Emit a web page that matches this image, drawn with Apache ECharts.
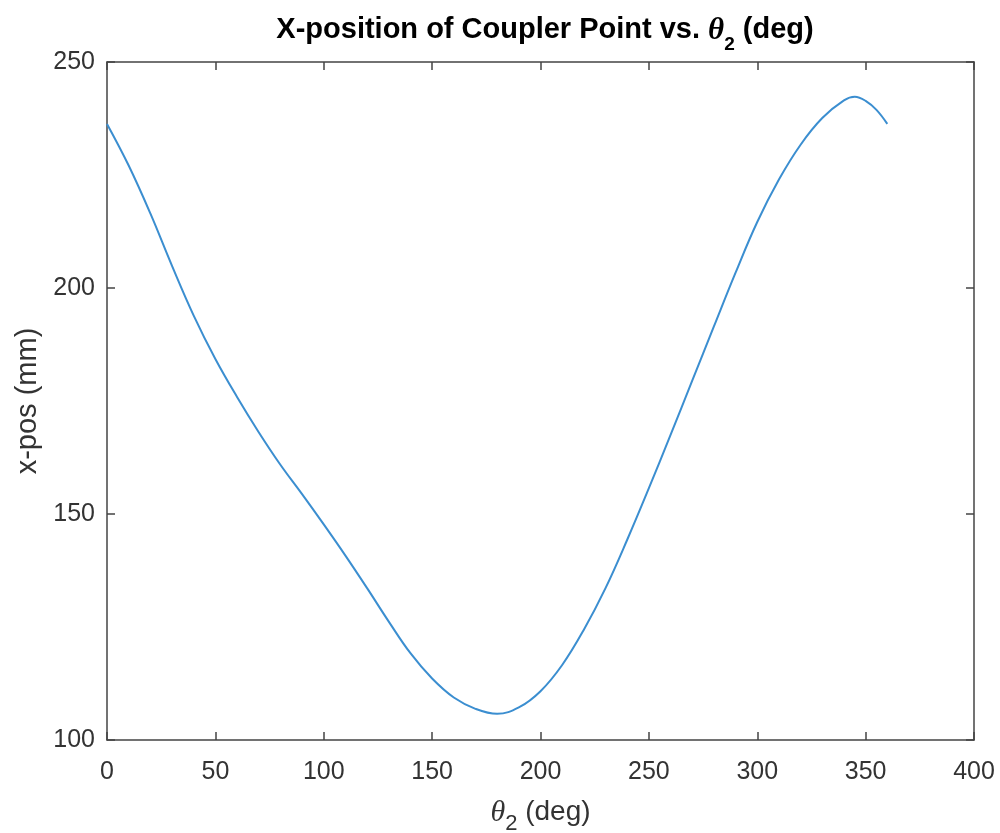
<!DOCTYPE html>
<html>
<head>
<meta charset="utf-8">
<title>X-position of Coupler Point</title>
<script src="https://cdn.jsdelivr.net/npm/echarts@6/dist/echarts.min.js"></script>
<style>
  html, body { margin: 0; padding: 0; background: #fff; }
  #chart { width: 1000px; height: 833px; }
</style>
</head>
<body>
<div id="chart"></div>
<script>
// crank angle theta2 (deg) and coupler point x-position (mm)
const thetaDeg = [0, 10, 20, 30, 40, 50, 60, 70, 80, 90, 100, 110, 120, 130, 140, 150, 160, 170, 180,
  190, 200, 210, 220, 230, 240, 250, 260, 270, 280, 290, 300, 310, 320, 330, 340, 345, 350, 355, 360];
const xPos = [236.3, 227.1, 216.5, 204.9, 193.9, 184.3, 175.9, 168.1, 160.9, 154.4, 147.7, 140.8, 133.6,
  126.2, 119.2, 113.6, 109.4, 106.9, 105.8, 107.2, 110.8, 116.6, 124.4, 133.6, 144.3, 155.7, 167.5,
  179.5, 191.5, 203.4, 214.6, 224.0, 231.7, 237.6, 241.5, 242.3, 241.4, 239.4, 236.3];

const xTicks = { min: 0, max: 400, interval: 50 };
const yTicks = { min: 100, max: 250, interval: 50 };

const font = 'Liberation Sans, Arial, Helvetica, sans-serif';
const axisColor = '#444';
const textColor = '#333';

const chart = echarts.init(document.getElementById('chart'));

const points = thetaDeg.map((t, i) => [t, xPos[i]]);

// shared look for the four sides of the box
function boxAxis (extra) {
  return Object.assign({
    type: 'value',
    axisLine: { show: true, onZero: false, lineStyle: { color: axisColor, width: 1.5 } },
    axisTick: { show: true, inside: true, length: 8, lineStyle: { color: axisColor, width: 1.5 } },
    splitLine: { show: false },
    axisLabel: { show: false }
  }, extra);
}

const tickLabel = { show: true, color: textColor, fontFamily: font, fontSize: 25 };

chart.setOption({
  animation: false,
  backgroundColor: '#fff',
  title: {
    text: '{b|X-position of Coupler Point vs. }{i|θ}{s|2}{b| (deg)}',
    left: 540,
    textAlign: 'center',
    top: 10,
    textStyle: {
      rich: {
        b: { fontFamily: font, fontWeight: 'bold', fontSize: 29, color: '#000', lineHeight: 32, verticalAlign: 'top' },
        i: { fontFamily: 'Liberation Serif, serif', fontStyle: 'italic', fontSize: 31, color: '#000', lineHeight: 32, verticalAlign: 'top' },
        s: { fontFamily: font, fontWeight: 'bold', fontSize: 19, color: '#000', lineHeight: 32, padding: [20, 0, 0, 0], verticalAlign: 'top' }
      }
    }
  },
  grid: { left: 107, right: 26, top: 62, bottom: 93, outerBoundsMode: 'none' },
  xAxis: [
    boxAxis(Object.assign({
      position: 'bottom',
      axisLabel: Object.assign({ margin: 20 }, tickLabel),
      name: '{i|θ}{s|2}{n| (deg)}',
      nameLocation: 'middle',
      nameGap: 58,
      nameTextStyle: {
        rich: {
          n: { fontFamily: font, fontSize: 28, color: textColor, lineHeight: 30, verticalAlign: 'top' },
          i: { fontFamily: 'Liberation Serif, serif', fontStyle: 'italic', fontSize: 30, color: textColor, lineHeight: 30, verticalAlign: 'top' },
          s: { fontFamily: font, fontSize: 22, color: textColor, lineHeight: 30, padding: [15, 0, 0, 0], verticalAlign: 'top' }
        }
      }
    }, xTicks)),
    boxAxis(Object.assign({ position: 'top' }, xTicks))
  ],
  yAxis: [
    boxAxis(Object.assign({
      position: 'left',
      axisLabel: Object.assign({ margin: 12 }, tickLabel),
      name: 'x-pos (mm)',
      nameLocation: 'middle',
      nameGap: 65,
      nameTextStyle: { fontFamily: font, fontSize: 29, color: textColor }
    }, yTicks)),
    boxAxis(Object.assign({ position: 'right' }, yTicks))
  ],
  series: [
    {
      type: 'line',
      data: points,
      xAxisIndex: 0,
      yAxisIndex: 0,
      smooth: 0.4,
      showSymbol: false,
      lineStyle: { color: '#3b8ed0', width: 2 }
    }
  ]
});
</script>
</body>
</html>
